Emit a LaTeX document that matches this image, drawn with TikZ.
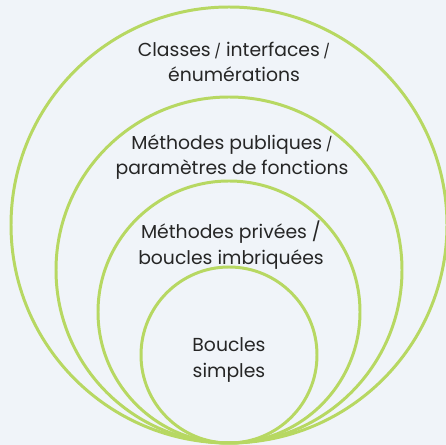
\documentclass[tikz,border=0pt]{standalone}
\usepackage{fontspec}
\setmainfont{Poppins}
\usetikzlibrary{positioning}

\definecolor{bgblue}{HTML}{F0F4F9}
\definecolor{ringgreen}{HTML}{B7D862}
\definecolor{labelgray}{HTML}{262626}

\newcommand{\sep}{{\fontsize{8}{8}\selectfont\kern2pt/}}

\tikzset{
  ring/.style={draw=ringgreen, line width=1.7pt},
  label/.style={text=labelgray, align=center, font=\fontsize{10.7}{14.5}\selectfont, inner sep=0pt},
}

\begin{document}
\begin{tikzpicture}[x=0.02cm, y=-0.02cm]

  % Background
  \fill[bgblue] (0,0) rectangle (446,445);
  \useasboundingbox (0,0) rectangle (446,445);

  % Nested circles, all touching at the bottom
  \begin{scope}
    \clip (0,0) rectangle (446,445);
    \draw[ring] (229,225) circle (218);
    \draw[ring] (229,270) circle (173);
    \draw[ring] (229,312) circle (131);
    \draw[ring] (229,355) circle (88);
  \end{scope}

  % Labels inside the circles
  \node[label] (classes) at (234,62) {Classes\sep{} interfaces\sep\\énumérations};
  \node[label] (publiques) at (232,157) {Méthodes publiques\sep\\paramètres de fonctions};
  \node[label] (privees) at (231,245) {Méthodes privées /\\boucles imbriquées};
  \node[label] (simples) at (229,360) {Boucles\\simples};

\end{tikzpicture}
\end{document}
